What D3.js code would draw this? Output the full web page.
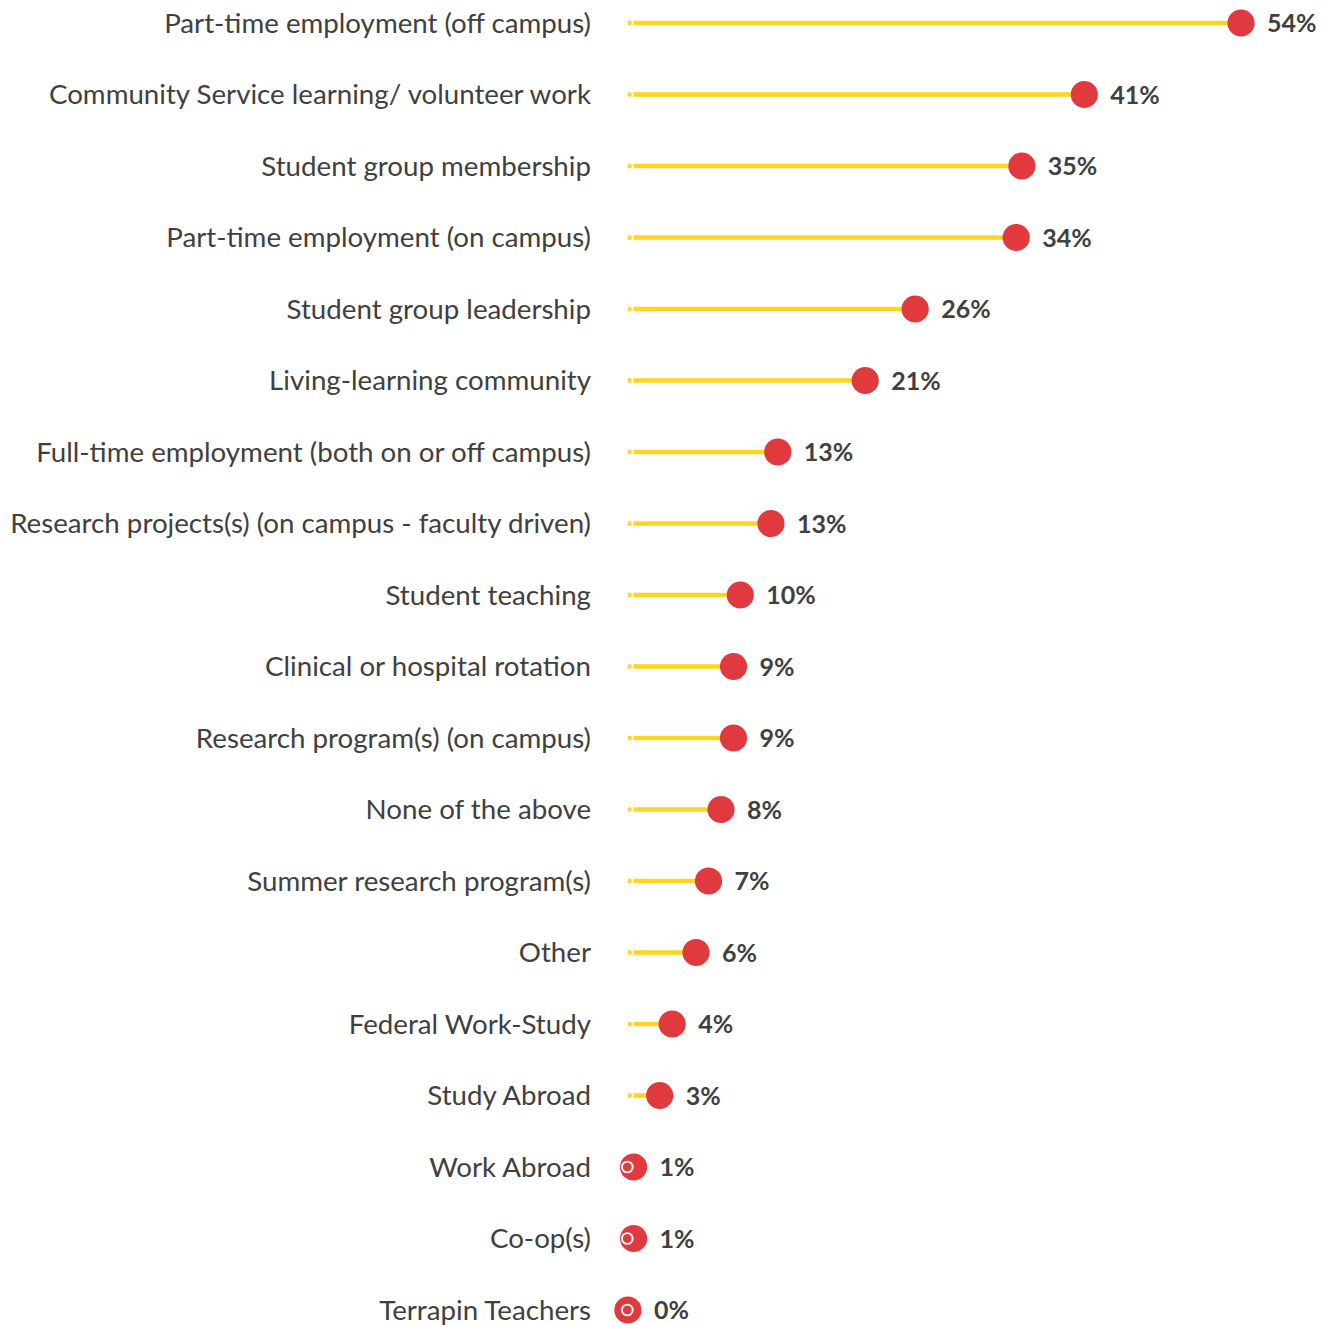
<!DOCTYPE html>
<html><head><meta charset="utf-8">
<script src="https://cdn.jsdelivr.net/npm/d3@7"></script>
<style>body{margin:0;background:#fff}</style>
</head><body>
<svg id="c" width="1337" height="1325"></svg>
<script>
const categories = [
  "Part-time employment (off campus)",
  "Community Service learning/ volunteer work",
  "Student group membership",
  "Part-time employment (on campus)",
  "Student group leadership",
  "Living-learning community",
  "Full-time employment (both on or off campus)",
  "Research projects(s) (on campus - faculty driven)",
  "Student teaching",
  "Clinical or hospital rotation",
  "Research program(s) (on campus)",
  "None of the above",
  "Summer research program(s)",
  "Other",
  "Federal Work-Study",
  "Study Abroad",
  "Work Abroad",
  "Co-op(s)",
  "Terrapin Teachers"
];
const values = [54.0, 40.2, 34.7, 34.2, 25.3, 20.9, 13.2, 12.6, 9.9, 9.3, 9.3, 8.2, 7.1, 6.0, 3.9, 2.8, 0.5, 0.5, 0.0];
const valueLabels = ["54%","41%","35%","34%","26%","21%","13%","13%","10%","9%","9%","8%","7%","6%","4%","3%","1%","1%","0%"];

const svg = d3.select("#c");
const x = d3.scaleLinear().domain([0, 54]).range([627.9, 1241]);
const y = d3.scalePoint().domain(categories).range([23, 1310]);

const FONT = "Lato, 'Open Sans', sans-serif";
const txt = "#404040";

// fit category font so the longest label matches the reference width
const probe = svg.append("text").attr("font-family", FONT).attr("font-size", 100)
  .text("Research projects(s) (on campus - faculty driven)");
const w100 = probe.node().getComputedTextLength();
probe.remove();
const catSize = 100 * 581 / w100;

const rows = svg.selectAll("g.row").data(categories).enter().append("g")
  .attr("class", "row")
  .attr("transform", d => `translate(0,${y(d)})`);

rows.append("text")
  .attr("x", 591).attr("y", 0).attr("dy", "0.35em")
  .attr("text-anchor", "end")
  .attr("font-family", FONT).attr("font-size", catSize)
  .attr("fill", txt)
  .text(d => d);

rows.append("line")
  .attr("x1", x(0)).attr("x2", (d, i) => x(values[i]))
  .attr("y1", 0).attr("y2", 0)
  .attr("stroke", "#FFD520").attr("stroke-width", 4.5);

rows.append("circle")
  .attr("cx", (d, i) => x(values[i])).attr("cy", 0).attr("r", 13.6)
  .attr("fill", "#E03A3E");

rows.append("circle")
  .attr("cx", x(0) - 0.6).attr("cy", 0).attr("r", 5.4)
  .attr("fill", "none").attr("stroke", "#fff").attr("stroke-width", 1.9);

rows.append("text")
  .attr("x", (d, i) => x(values[i]) + 26).attr("y", 0).attr("dy", "0.36em")
  .attr("font-family", FONT).attr("font-weight", "bold").attr("font-size", 25)
  .attr("fill", txt)
  .text((d, i) => valueLabels[i]);
</script>
</body></html>
